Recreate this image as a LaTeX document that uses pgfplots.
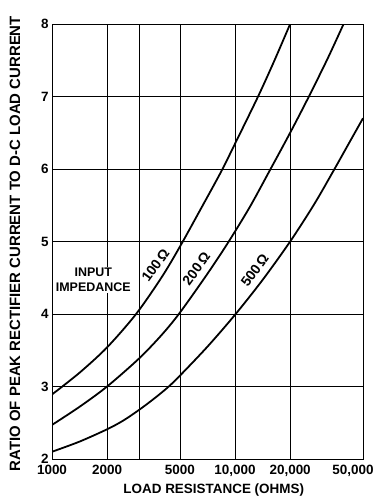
\documentclass[border=0pt]{standalone}
\usepackage{pgfplots}
\pgfplotsset{compat=1.18}
\usepackage{fontspec}
\setmainfont{Liberation Sans}
\begin{document}
\begin{tikzpicture}
\path[use as bounding box] (-52bp,-44bp) rectangle (331bp,459bp);
\begin{axis}[
  scale only axis, width=311bp, height=435bp,
  xmode=log, xmin=1000, xmax=50000, ymin=2, ymax=8,
  xtick={1000,2000,3000,5000,10000,20000,50000},
  xticklabels={1000,2000,,5000,{10,000},{20,000},{\hspace*{-20bp}50,000}},
  ytick={2,3,4,5,6,7,8},
  minor xtick={}, minor ytick={},
  major tick length=0pt,
  grid=major,
  major grid style={black, line width=0.8pt},
  axis line style={black, line width=1pt},
  /pgf/number format/assume math mode=true,
  tick label style={font=\fontsize{13.5}{14}\selectfont\bfseries},
  xticklabel style={yshift=-3bp},
  xlabel={LOAD RESISTANCE (OHMS)},
  ylabel={RATIO OF PEAK RECTIFIER CURRENT TO D-C LOAD CURRENT},
  xlabel style={font=\fontsize{13.5}{14}\selectfont\bfseries, at={(axis description cs:0.52,-0.0713)}, anchor=center},
  ylabel style={font=\fontsize{15}{16}\selectfont\bfseries, at={(axis description cs:-0.119,0.495)}, anchor=center},
  clip=true,
]
\addplot[black, line width=1.8pt, smooth] coordinates {
 (1000,2.89) (1414,3.19) (2000,3.54) (2880,4.0) (3980,4.51) (5000,4.93) (6500,5.45) (8380,5.96) (10000,6.35) (13300,6.99) (16300,7.48) (20000,8.0)};
\addplot[black, line width=1.8pt, smooth] coordinates {
 (1000,2.47) (1414,2.72) (2000,3.0) (3000,3.39) (4000,3.72) (5000,4.02) (7000,4.54) (9080,4.97) (12000,5.47) (15400,5.97) (20000,6.5) (25200,6.99) (32000,7.52) (39000,7.99)};
\addplot[black, line width=1.8pt, smooth] coordinates {
 (1000,2.10) (1414,2.24) (2000,2.41) (2450,2.53) (3000,2.68) (3600,2.83) (4300,2.99) (5000,3.15) (7070,3.55) (10000,3.99) (14140,4.47) (20000,5.0) (27000,5.51) (34400,5.97) (42000,6.36) (50000,6.70)};
\node[fill=white, align=center, inner sep=1pt, font=\fontsize{12.5}{15}\selectfont\bfseries] at (axis cs:1680,4.47) {INPUT\\IMPEDANCE};
\node[rotate=54, xshift=-1bp, yshift=2bp, font=\fontsize{14}{15}\selectfont\bfseries] at (axis cs:3780,4.67) {100\,Ω};
\node[rotate=54, xshift=-1bp, yshift=2bp, font=\fontsize{14}{15}\selectfont\bfseries] at (axis cs:6320,4.62) {200\,Ω};
\node[rotate=54, xshift=-1bp, yshift=2bp, font=\fontsize{14}{15}\selectfont\bfseries] at (axis cs:13190,4.60) {500\,Ω};
\end{axis}
\end{tikzpicture}
\end{document}
